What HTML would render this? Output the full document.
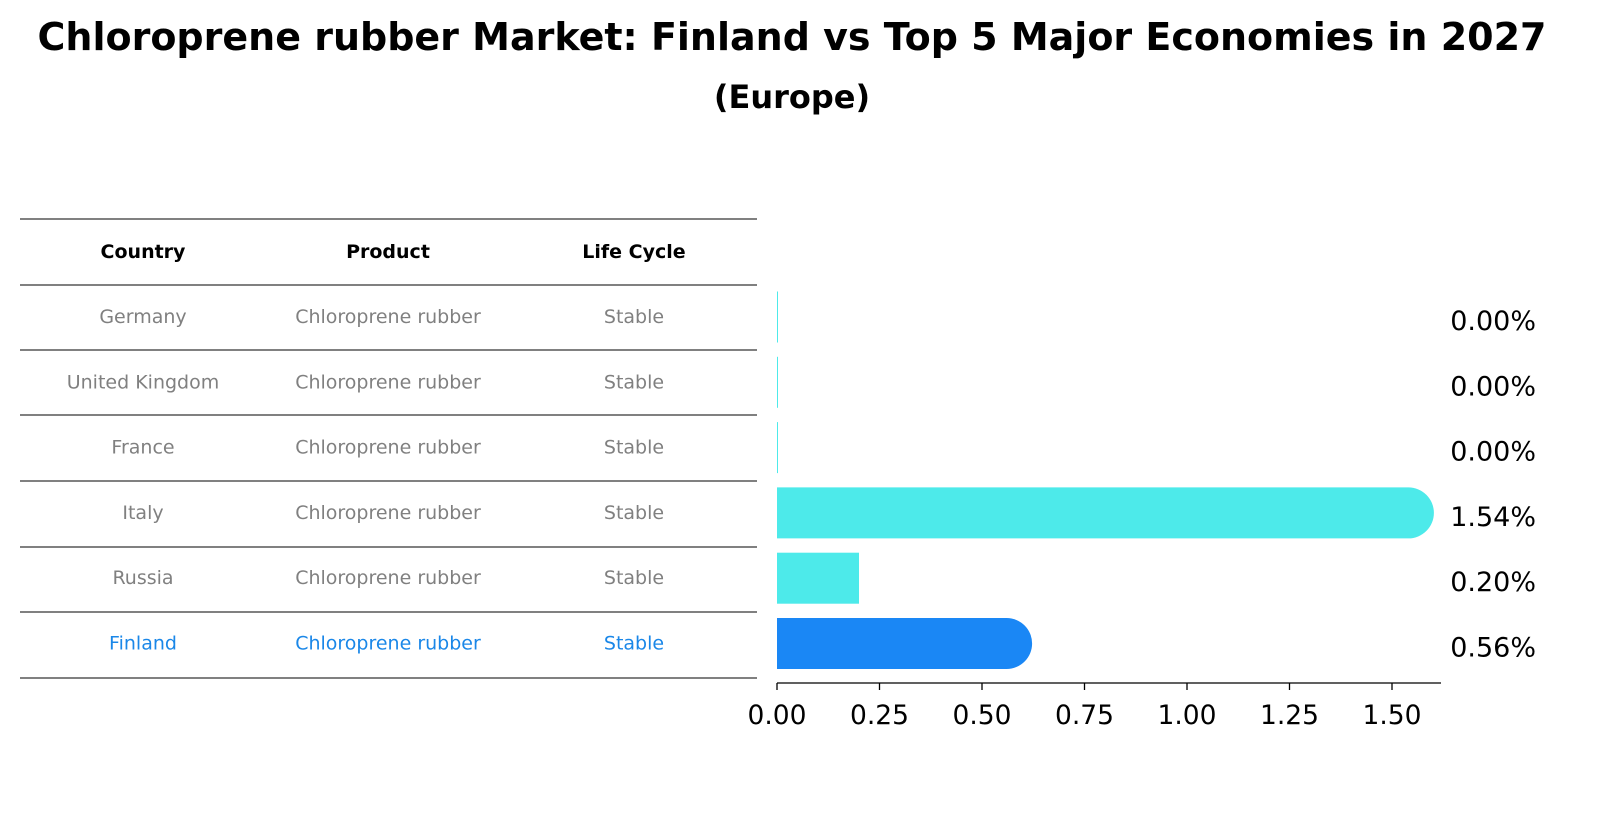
<!DOCTYPE html>
<html><head><meta charset="utf-8"><style>
body{margin:0;background:#fff;width:1598px;height:823px;overflow:hidden;font-family:"Liberation Sans","DejaVu Sans",sans-serif}
</style></head><body>
<svg width="1598" height="823" font-family="DejaVu Sans, Liberation Sans, sans-serif">
<text x="792" y="50" text-anchor="middle" font-size="38" font-weight="bold">Chloroprene rubber Market: Finland vs Top 5 Major Economies in 2027</text>
<text x="792" y="108" text-anchor="middle" font-size="32" font-weight="bold">(Europe)</text>
<g id="table"></g>
<g id="bars"></g>
</svg>
<script>
const countries=["Germany","United Kingdom","France","Italy","Russia","Finland"];
const values=[0.00,0.00,0.00,1.54,0.20,0.56];
const ticks=[0,0.25,0.5,0.75,1.0,1.25,1.5];
const tickLabels=["0.00","0.25","0.50","0.75","1.00","1.25","1.50"];
const NS="http://www.w3.org/2000/svg";
function mk(tag,attrs,parent,text){const e=document.createElementNS(NS,tag);for(const k in attrs)e.setAttribute(k,attrs[k]);if(text!==undefined)e.textContent=text;parent.appendChild(e);return e;}
const tbl=document.getElementById('table');
const lineYs=[219,285,350,415,481,547,612,678];
lineYs.forEach(y=>{const l=mk('line',{x1:20,x2:757,y1:y,y2:y,stroke:'#000','stroke-width':1},tbl);

});
const colX=[143,388,634];
["Country","Product","Life Cycle"].forEach((h,i)=>{const t=mk('text',{x:colX[i],y:258,'text-anchor':'middle','font-size':19,'font-weight':'bold'},tbl,h);

});
const rowY=i=>317+i*65.3;
countries.forEach((c,i)=>{const col=c==="Finland"?"#1a87e8":"#808080";
[c,"Chloroprene rubber","Stable"].forEach((v,j)=>{const t=mk('text',{x:colX[j],y:rowY(i)+6,'text-anchor':'middle','font-size':19,fill:col},tbl,v);

});});
const bars=document.getElementById('bars');
const x0=777,ppu=410;const xs=v=>x0+v*ppu;
const bh=51;
values.forEach((v,i)=>{const cy=rowY(i);const col=countries[i]==="Finland"?"#1a87f5":"#4deaea";
const w=Math.max(xs(v)-x0,1);
let el;
if(v>=0.5){const r=bh/2;const xe=xs(v);
el=mk('path',{d:`M${x0},${cy-r} L${xe},${cy-r} A${r},${r} 0 0 1 ${xe},${cy+r} L${x0},${cy+r} Z`,fill:col},bars);}
else el=mk('rect',{x:x0,y:cy-bh/2,width:w,height:bh,fill:col},bars);


const t=mk('text',{x:1536,y:cy+13,'text-anchor':'end','font-size':27},bars,values[i].toFixed(2)+'%');

});
const ax=mk('line',{x1:x0,x2:1441,y1:683,y2:683,stroke:'#000','stroke-width':1.3},bars);


ticks.forEach((v,i)=>{const tl=mk('line',{x1:xs(v),x2:xs(v),y1:683,y2:690,stroke:'#000','stroke-width':1.3},bars);


const t=mk('text',{x:xs(v),y:724,'text-anchor':'middle','font-size':26.5},bars,tickLabels[i]);

});
</script>
</body></html>
